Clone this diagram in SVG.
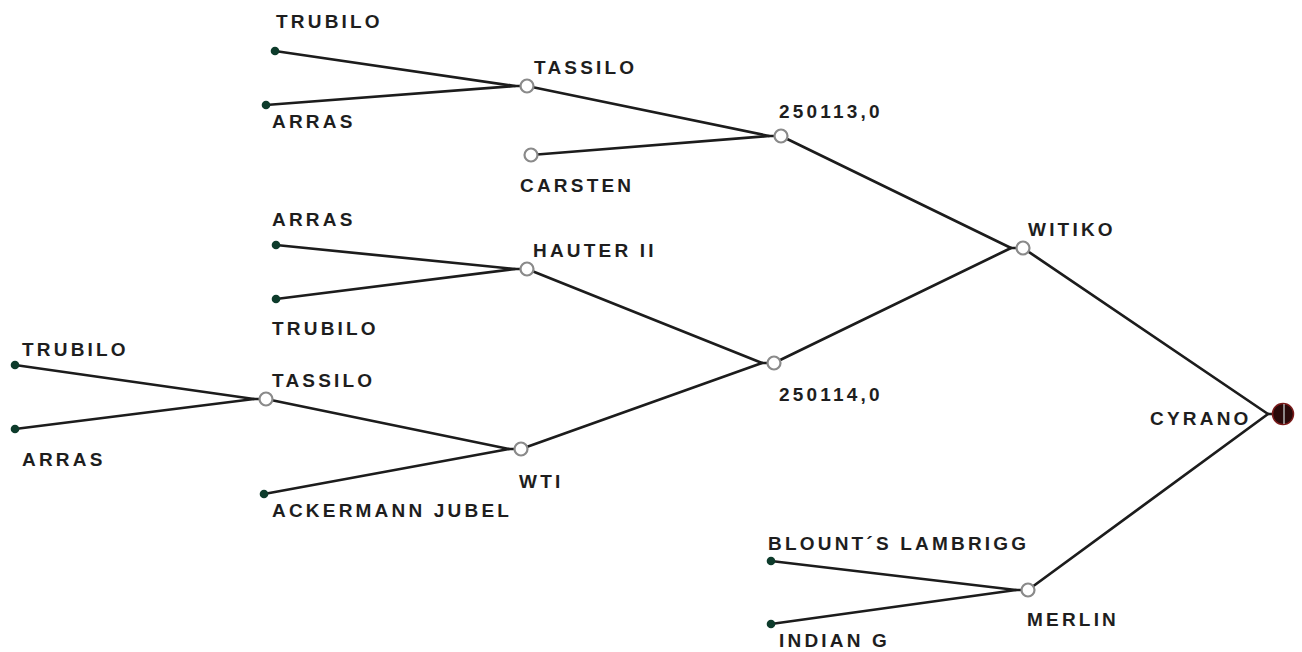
<svg xmlns="http://www.w3.org/2000/svg" width="1302" height="652" viewBox="0 0 1302 652">
<style>
text{font-family:"Liberation Sans",Arial,sans-serif;font-weight:bold;font-size:19px;letter-spacing:3.2px;fill:#1e1e1e}
.e{stroke:#1c1c1c;stroke-width:2.7;fill:none;stroke-linecap:round;stroke-linejoin:round}
.leaf{fill:#0d3b2b}
.inner{fill:#fff;stroke:#8a8a8a;stroke-width:2.2}
</style>
<rect width="1302" height="652" fill="#fff"/>
<g id="connectors">
<polyline class="e" points="275,51 515,86 527,86"/>
<polyline class="e" points="266,105 515,86"/>
<polyline class="e" points="527,86 769,136 781,136"/>
<polyline class="e" points="531,155 769,136"/>
<polyline class="e" points="276,245 515,269 527,269"/>
<polyline class="e" points="276,299 515,269"/>
<polyline class="e" points="15,365 254,399 266,399"/>
<polyline class="e" points="15,429 254,399"/>
<polyline class="e" points="266,399 509,449 521,449"/>
<polyline class="e" points="264,494 509,449"/>
<polyline class="e" points="527,269 762,363 774,363"/>
<polyline class="e" points="521,449 762,363"/>
<polyline class="e" points="781,136 1011,248 1023,248"/>
<polyline class="e" points="774,363 1011,248"/>
<polyline class="e" points="771,561 1016,590 1028,590"/>
<polyline class="e" points="771,624 1016,590"/>
<polyline class="e" points="1023,248 1268,414 1283,414"/>
<polyline class="e" points="1028,590 1268,414"/>
</g>
<g id="n-trubilo-1"><circle class="leaf" cx="275" cy="51" r="4.3"/><text x="276" y="28">TRUBILO</text></g>
<g id="n-arras-1"><circle class="leaf" cx="266" cy="105" r="4.3"/><text x="272" y="128">ARRAS</text></g>
<g id="n-tassilo-1"><circle class="inner" cx="527" cy="86" r="6.5"/><text x="534" y="74">TASSILO</text></g>
<g id="n-carsten"><circle class="inner" cx="531" cy="155" r="6.5"/><text x="520" y="192">CARSTEN</text></g>
<g id="n-250113"><circle class="inner" cx="781" cy="136" r="6.5"/><text x="779" y="118">250113,0</text></g>
<g id="n-arras-2"><circle class="leaf" cx="276" cy="245" r="4.3"/><text x="272" y="226">ARRAS</text></g>
<g id="n-trubilo-2"><circle class="leaf" cx="276" cy="299" r="4.3"/><text x="272" y="335">TRUBILO</text></g>
<g id="n-hauter"><circle class="inner" cx="527" cy="269" r="6.5"/><text x="533" y="257">HAUTER II</text></g>
<g id="n-trubilo-3"><circle class="leaf" cx="15" cy="365" r="4.3"/><text x="22" y="356">TRUBILO</text></g>
<g id="n-arras-3"><circle class="leaf" cx="15" cy="429" r="4.3"/><text x="22" y="466">ARRAS</text></g>
<g id="n-tassilo-2"><circle class="inner" cx="266" cy="399" r="6.5"/><text x="272" y="387">TASSILO</text></g>
<g id="n-ackermann"><circle class="leaf" cx="264" cy="494" r="4.3"/><text x="272" y="517">ACKERMANN JUBEL</text></g>
<g id="n-wti"><circle class="inner" cx="521" cy="449" r="6.5"/><text x="519" y="488">WTI</text></g>
<g id="n-250114"><circle class="inner" cx="774" cy="363" r="6.5"/><text x="779" y="401">250114,0</text></g>
<g id="n-witiko"><circle class="inner" cx="1023" cy="248" r="6.5"/><text x="1028" y="236">WITIKO</text></g>
<g id="n-blount"><circle class="leaf" cx="771" cy="561" r="4.3"/><text x="768" y="550">BLOUNT´S LAMBRIGG</text></g>
<g id="n-indian"><circle class="leaf" cx="771" cy="624" r="4.3"/><text x="779" y="647">INDIAN G</text></g>
<g id="n-merlin"><circle class="inner" cx="1028" cy="590" r="6.5"/><text x="1027" y="626">MERLIN</text></g>
<g id="n-cyrano"><circle cx="1283" cy="414" r="10.5" fill="#2a0a0a" stroke="#7a1a1a" stroke-width="1.5"/><line x1="1284" y1="404" x2="1284" y2="424" stroke="#b0b0b0" stroke-width="1.5"/><text x="1150" y="425">CYRANO</text></g>
</svg>
